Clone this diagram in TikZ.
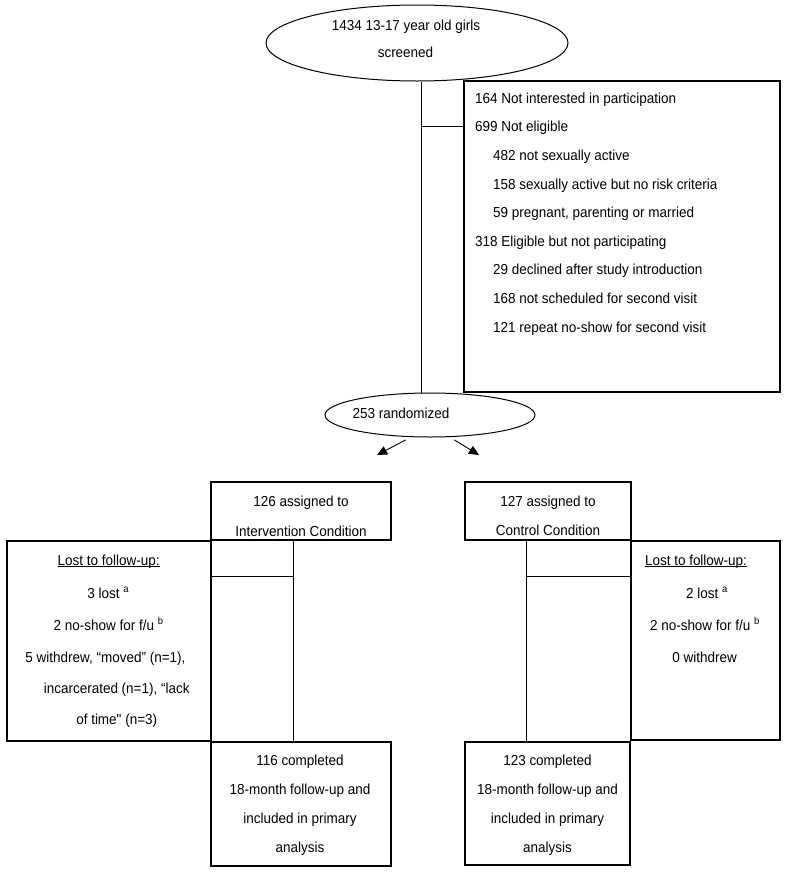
\documentclass[tikz,border=0pt]{standalone}
\usepackage{fontspec}
\setmainfont{Liberation Sans}[FakeStretch=0.93, Ligatures=TeXOff]
\usetikzlibrary{shapes.geometric,arrows.meta}
\begin{document}
\begin{tikzpicture}[x=1pt,y=-1pt,
  txt/.style={inner sep=0pt, font=\fontsize{14.5}{17}\selectfont, anchor=base},
  txtl/.style={txt, anchor=base west},
  thickbox/.style={draw, line width=2pt, rectangle, inner sep=0pt},
  oval/.style={draw, line width=1pt, ellipse, inner sep=0pt},
  conn/.style={draw, line width=0.9pt},
  arr/.style={conn, -{Triangle[length=10pt,width=9pt]}}
]
\useasboundingbox (0,0) rectangle (787,873);

% screening ellipse
\node[oval, minimum width=302pt, minimum height=76pt] (screen) at (417,43) {};
\node[txt] (s1) at (406,30) {1434 13-17 year old girls};
\node[txt] (s2) at (405.5,57) {screened};

% exclusion box
\node[thickbox, minimum width=316pt, minimum height=311pt] (excl) at (622,236.5) {};
\node[txtl] (e1) at (475,103) {164 Not interested in participation};
\node[txtl] (e2) at (475,131.7) {699 Not eligible};
\node[txtl] (e3) at (493,160.3) {482 not sexually active};
\node[txtl] (e4) at (493,189) {158 sexually active but no risk criteria};
\node[txtl] (e5) at (493,217.6) {59 pregnant, parenting or married};
\node[txtl] (e6) at (475,246.3) {318 Eligible but not participating};
\node[txtl] (e7) at (493,274.9) {29 declined after study introduction};
\node[txtl] (e8) at (493,303.5) {168 not scheduled for second visit};
\node[txtl] (e9) at (493,332.2) {121 repeat no-show for second visit};

% randomized ellipse
\node[oval, minimum width=210pt, minimum height=44pt] (rand) at (430,415) {};
\node[txt] (r1) at (401,418.5) {253 randomized};

% connectors at top
\draw[conn] ([xshift=4pt]screen.south) -- ([xshift=4pt]screen.south |- rand.north);
\coordinate (br) at (421,126);
\draw[conn] (br) -- (br -| excl.west);

% arrows
\coordinate (a1e) at (377,455);
\coordinate (a2e) at (479,455);
\draw[arr] ([yshift=-3pt]rand.222) -- (a1e);
\draw[arr] ([yshift=-3pt]rand.318) -- (a2e);

% assigned boxes
\node[thickbox, minimum width=180pt, minimum height=58pt] (asgI) at (301,511) {};
\node[txt] (ai1) at (301,506) {126 assigned to};
\node[txt] (ai2) at (301,536.5) {Intervention Condition};
\node[thickbox, minimum width=166pt, minimum height=58pt] (asgC) at (548,511) {};
\node[txt] (ac1) at (548,506) {127 assigned to};
\node[txt] (ac2) at (548,535.5) {Control Condition};

% lost boxes
\node[thickbox, minimum width=204pt, minimum height=200pt] (lostI) at (109,641) {};
\node[txt] (li1) at (108.7,565) {\underline{\smash{Lost to follow-up:}}};
\node[txt] (li2) at (108.3,598) {3 lost \textsuperscript{a}};
\node[txt] (li3) at (108.7,630) {2 no-show for f/u \textsuperscript{b}};
\node[txt] (li4) at (105.5,662) {5 withdrew, “moved” (n=1),};
\node[txt] (li5) at (116.7,693.5) {incarcerated (n=1), “lack};
\node[txt] (li6) at (116.7,724.5) {of time" (n=3)};

\node[thickbox, minimum width=149pt, minimum height=199pt] (lostC) at (705.5,640.5) {};
\node[txt] (lc1) at (696,565) {\underline{\smash{Lost to follow-up:}}};
\node[txt] (lc2) at (707,598) {2 lost \textsuperscript{a}};
\node[txt] (lc3) at (705,630) {2 no-show for f/u \textsuperscript{b}};
\node[txt] (lc4) at (704.7,662) {0 withdrew};

% completed boxes
\node[thickbox, minimum width=180pt, minimum height=124pt] (compI) at (301,804) {};
\node[txt] (ci1) at (300,765.2) {116 completed};
\node[txt] (ci2) at (300,794) {18-month follow-up and};
\node[txt] (ci3) at (300,823) {included in primary};
\node[txt] (ci4) at (300,852) {analysis};
\node[thickbox, minimum width=165pt, minimum height=123pt] (compC) at (547.5,803.5) {};
\node[txt] (cc1) at (547.5,765.2) {123 completed};
\node[txt] (cc2) at (547.5,794) {18-month follow-up and};
\node[txt] (cc3) at (547.5,823) {included in primary};
\node[txt] (cc4) at (547.5,852) {analysis};

% branch lines
\coordinate (vI) at (293,0);
\coordinate (vC) at (526,0);
\coordinate (hy) at (0,576);
\draw[conn] (asgI.south -| vI) -- (compI.north -| vI);
\draw[conn] (lostI.east |- hy) -- (vI |- hy);
\draw[conn] (asgC.south -| vC) -- (compC.north -| vC);
\draw[conn] (vC |- hy) -- (lostC.west |- hy);
\end{tikzpicture}
\end{document}
